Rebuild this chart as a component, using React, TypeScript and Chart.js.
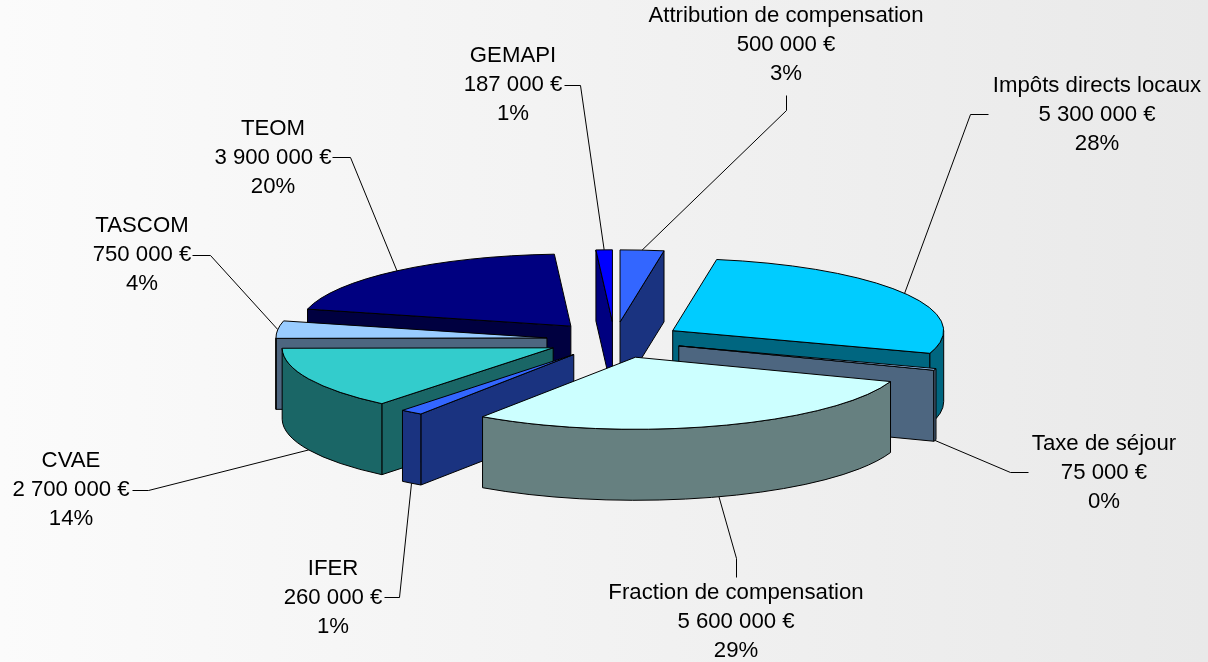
import React, { useEffect, useRef } from "react";
import { Chart, registerables } from "chart.js";

Chart.register(...registerables);

const categories = [
  "Attribution de compensation",
  "Impôts directs locaux",
  "Taxe de séjour",
  "Fraction de compensation",
  "IFER",
  "CVAE",
  "TASCOM",
  "TEOM",
  "GEMAPI",
];
const amounts = [500000, 5300000, 75000, 5600000, 260000, 2700000, 750000, 3900000, 187000];
const topColors = ["#3366ff", "#00ccff", "#99ccff", "#ccffff", "#3366ff", "#33cccc", "#99ccff", "#000080", "#0000ff"];
const sideColors = ["#1a3380", "#006680", "#4d6680", "#668080", "#1a3380", "#1a6666", "#4d6680", "#000040", "#000080"];

// Label layout: text centre x, first-line centre y, leader start, leader elbow
const labelCentreX = [786, 1097, 1104, 736, 333, 71, 142, 273, 513];
const labelTopY = [16, 86, 444, 593, 569, 461, 226, 129, 56];
const leaderStart = [[786, 95], [988, 114], [1028, 472], [736, 577], [384, 597], [132, 490], [192, 255], [332, 157], [564, 85]];
const leaderElbow = [[786, 110], [970, 114], [1010, 472], [736, 558], [399, 597], [148, 490], [210, 255], [350, 157], [580, 85]];

const SQUASH = 0.266;
const DEPTH = 71;
const EXPLODE = 68;
const RADIUS = 271;
const LINE_H = 29;

const formatAmount = (v: number) =>
  String(v).replace(/\B(?=(\d{3})+(?!\d))/g, "\u00a0") + "\u00a0€";

const pie3d = {
  id: "pie3d",
  beforeDraw(chart: any) {
    const { ctx, width, height } = chart;
    const g = ctx.createLinearGradient(0, 0, width, 0);
    g.addColorStop(0, "#fbfbfb");
    g.addColorStop(1, "#e9e9e9");
    ctx.save();
    ctx.fillStyle = g;
    ctx.fillRect(0, 0, width, height);
    ctx.restore();
  },
  beforeDatasetsDraw(chart: any) {
    const { ctx } = chart;
    const arcs = chart.getDatasetMeta(0).data as any[];
    const geo = arcs.map((a, i) => {
      const mid = (a.startAngle + a.endAngle) / 2;
      return {
        i,
        start: a.startAngle,
        end: a.endAngle,
        mid,
        r: a.outerRadius,
        cx: a.x + Math.cos(mid) * EXPLODE,
        cy: a.y + Math.sin(mid) * EXPLODE * SQUASH,
        top: a.options.backgroundColor as string,
      };
    });
    const ordered = [...geo].sort((p, q) => p.cy - q.cy);

    ctx.save();
    ctx.lineWidth = 1;
    ctx.strokeStyle = "#000000";
    ctx.lineJoin = "round";
    const radialFace = (g: any, ang: number) => {
      const px = g.cx + Math.cos(ang) * g.r;
      const py = g.cy + Math.sin(ang) * g.r * SQUASH;
      ctx.beginPath();
      ctx.moveTo(g.cx, g.cy);
      ctx.lineTo(px, py);
      ctx.lineTo(px, py + DEPTH);
      ctx.lineTo(g.cx, g.cy + DEPTH);
      ctx.closePath();
      ctx.fillStyle = sideColors[g.i];
      ctx.fill();
      ctx.stroke();
    };
    for (const g of ordered) {
      if (Math.cos(g.start) < 0) radialFace(g, g.start);
      if (Math.cos(g.end) > 0) radialFace(g, g.end);
      // outer wall: only the part of the rim that faces the viewer
      const turn = Math.PI * 2;
      let s = g.start;
      let e = g.end;
      if (s > Math.PI) {
        s -= turn;
        e -= turn;
      }
      const a0 = Math.max(s, 0);
      const a1 = Math.min(e, Math.PI);
      if (a1 > a0) {
        ctx.beginPath();
        ctx.ellipse(g.cx, g.cy, g.r, g.r * SQUASH, 0, a0, a1);
        ctx.ellipse(g.cx, g.cy + DEPTH, g.r, g.r * SQUASH, 0, a1, a0, true);
        ctx.closePath();
        ctx.fillStyle = sideColors[g.i];
        ctx.fill();
        ctx.stroke();
      }
      ctx.beginPath();
      ctx.moveTo(g.cx, g.cy);
      ctx.ellipse(g.cx, g.cy, g.r, g.r * SQUASH, 0, g.start, g.end);
      ctx.closePath();
      ctx.fillStyle = g.top;
      ctx.fill();
      ctx.stroke();
    }

    // leaders
    ctx.beginPath();
    geo.forEach((g) => {
      const ex = g.cx + Math.cos(g.mid) * g.r;
      let ey = g.cy + Math.sin(g.mid) * g.r * SQUASH;
      if (Math.sin(g.mid) > 0) ey += DEPTH;
      ctx.moveTo(leaderStart[g.i][0] + 0.5, leaderStart[g.i][1] + 0.5);
      ctx.lineTo(leaderElbow[g.i][0] + 0.5, leaderElbow[g.i][1] + 0.5);
      ctx.lineTo(ex, ey);
    });
    ctx.strokeStyle = "#000000";
    ctx.stroke();

    // labels
    const total = amounts.reduce((a, b) => a + b, 0);
    ctx.fillStyle = "#000000";
    ctx.font = '22.2px "Liberation Sans", Arial, sans-serif';
    ctx.textAlign = "center";
    ctx.textBaseline = "middle";
    categories.forEach((name, i) => {
      const lines = [name, formatAmount(amounts[i]), Math.round((amounts[i] / total) * 100) + "%"];
      lines.forEach((t, k) => ctx.fillText(t, labelCentreX[i], labelTopY[i] + k * LINE_H));
    });
    ctx.restore();
    return false;
  },
};

export default function App() {
  const ref = useRef<HTMLCanvasElement>(null);
  useEffect(() => {
    document.body.style.margin = "0";
    const chart = new Chart(ref.current as HTMLCanvasElement, {
      type: "pie",
      data: {
        labels: categories,
        datasets: [{ data: amounts, backgroundColor: topColors, borderColor: "#000000", borderWidth: 1 }],
      },
      options: {
        responsive: false,
        animation: false,
        radius: RADIUS,
        layout: { padding: { left: 21, top: 18 } },
        plugins: { legend: { display: false }, tooltip: { enabled: false } },
      } as any,
      plugins: [pie3d],
    });
    return () => chart.destroy();
  }, []);
  return <canvas ref={ref} width={1208} height={662} style={{ display: "block" }} />;
}
